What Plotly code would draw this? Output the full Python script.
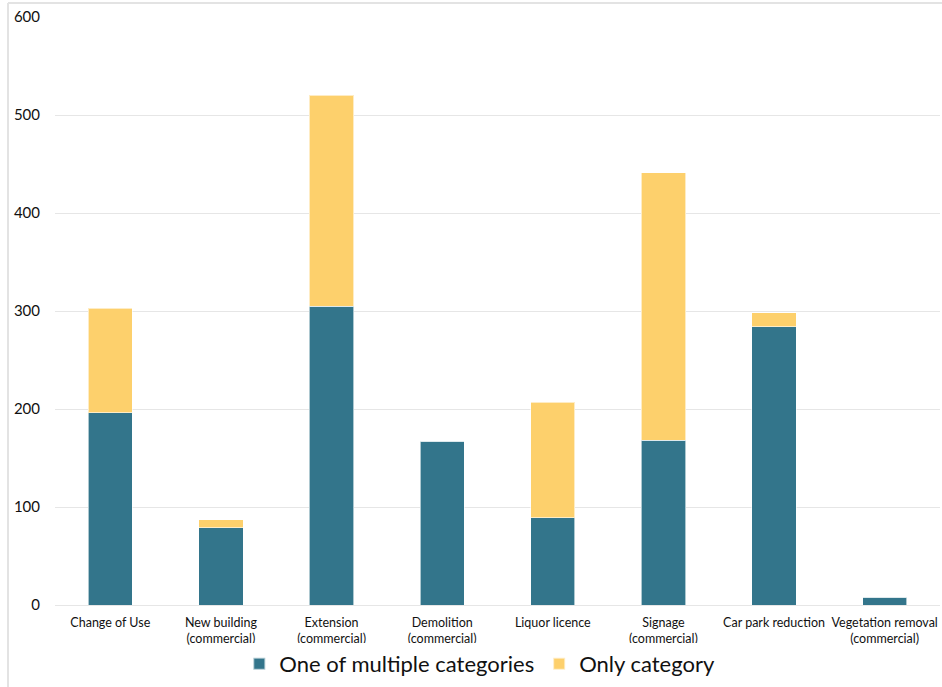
import plotly.graph_objects as go

categories = [
    "Change of Use",
    "New building<br>(commercial)",
    "Extension<br>(commercial)",
    "Demolition<br>(commercial)",
    "Liquor licence",
    "Signage<br>(commercial)",
    "Car park reduction",
    "Vegetation removal<br>(commercial)",
]
multiple = [196, 79, 305, 167, 89, 168, 284, 8]
only = [107, 8, 215, 0, 118, 273, 14, 0]

blue = "#33758B"
yellow = "#FDD06C"
font_family = "Lato, 'Open Sans', sans-serif"

fig = go.Figure()
fig.add_trace(go.Bar(x=categories, y=multiple, name="One of multiple categories",
                     marker=dict(color=blue, line=dict(color="rgba(255,255,255,0.6)", width=1))))
fig.add_trace(go.Bar(x=categories, y=only, name="Only category",
                     marker=dict(color=yellow, line=dict(color="rgba(255,255,255,0.6)", width=1))))

fig.update_layout(
    barmode="stack",
    bargap=0.6,
    width=942, height=687,
    margin=dict(l=55, r=2, t=17, b=82),
    plot_bgcolor="white", paper_bgcolor="white",
    font=dict(family=font_family, color="#222222"),
    showlegend=True,
    legend=dict(orientation="h", x=0.48, xanchor="center", y=-0.136, yanchor="bottom",
                font=dict(size=22, color="#111111"), itemsizing="constant",
                traceorder="normal"),
    xaxis=dict(showgrid=False, showline=False, ticks="", tickfont=dict(size=12.5, color="#111111"),
               tickangle=0, automargin=False, ticklabelstandoff=8),
    yaxis=dict(range=[0, 600], dtick=100, showgrid=True, gridcolor="#E6E6E6", gridwidth=1,
               zeroline=True, zerolinecolor="#E6E6E6", zerolinewidth=1,
               showline=False, ticks="", tickfont=dict(size=15, color="#111111"),
               ticklabelstandoff=14, automargin=False),
    shapes=[
        dict(type="line", xref="paper", yref="paper", x0=-0.0531, x1=1.01, y0=1.0238, y1=1.0238,
             line=dict(color="#E3E3E3", width=2)),
        dict(type="line", xref="paper", yref="paper", x0=-0.0531, x1=-0.0531, y0=1.0238, y1=-0.2,
             line=dict(color="#E3E3E3", width=2)),
    ],
)

fig.write_html("out.html")
